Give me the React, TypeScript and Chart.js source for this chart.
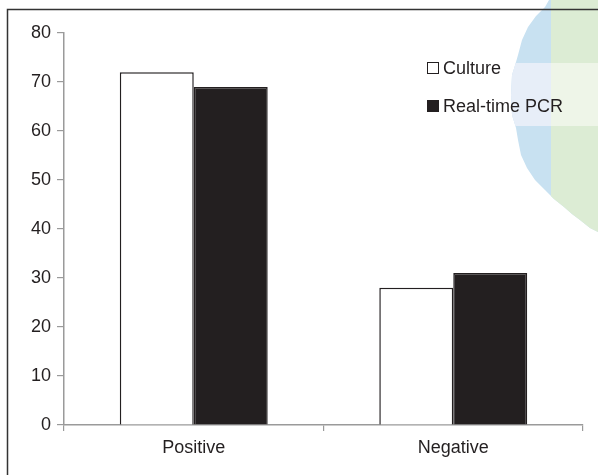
import React, { useEffect, useRef } from "react";
import { Chart, registerables } from "chart.js";

Chart.register(...registerables);

const categories = ["Positive", "Negative"];
const cultureValues = [72, 28];
const pcrValues = [69, 31];
const seriesNames = ["Culture", "Real-time PCR"];
const yTicks = [0, 10, 20, 30, 40, 50, 60, 70, 80];

const INK = "#231f20";
const AXIS = "#9a9a9a";
const FONT = "'Liberation Sans', Arial, sans-serif";

const decorPlugin = {
  id: "decor",
  beforeDraw(chart: any) {
    const ctx = chart.ctx;
    ctx.save();
    ctx.fillStyle = "#ffffff";
    ctx.fillRect(0, 0, chart.width, chart.height);
    // watermark blob at top-right
    const edge: [number, number][] = [
      [549, 0], [545, 7], [536, 16], [528, 27], [522, 40], [518, 55],
      [516, 62], [512, 75], [511, 95], [512, 115], [516, 128], [518, 140],
      [521, 155], [527, 168], [535, 180], [545, 190], [554, 199],
      [564, 207], [572, 214], [580, 220], [590, 228], [598, 232], [598, 0],
    ];
    ctx.beginPath();
    edge.forEach(([x, y], i) => (i ? ctx.lineTo(x, y) : ctx.moveTo(x, y)));
    ctx.closePath();
    ctx.clip();
    ctx.fillStyle = "#c8e1f1";
    ctx.fillRect(500, 0, 98, 240);
    ctx.fillStyle = "#dcecd4";
    ctx.fillRect(551, 0, 47, 240);
    ctx.fillStyle = "#e7eef8";
    ctx.fillRect(500, 63, 51, 63);
    ctx.fillStyle = "#eef5e8";
    ctx.fillRect(551, 63, 47, 63);
    ctx.restore();
  },
  afterDraw(chart: any) {
    const ctx = chart.ctx;
    ctx.save();
    // frame (top and left edges)
    ctx.strokeStyle = "#333333";
    ctx.lineWidth = 1.5;
    ctx.beginPath();
    ctx.moveTo(7.5, chart.height);
    ctx.lineTo(7.5, 9.5);
    ctx.lineTo(chart.width, 9.5);
    ctx.stroke();
    // legend
    const left = chart.chartArea.left + 363;
    const top = chart.chartArea.top + 35;
    ctx.font = `18px ${FONT}`;
    ctx.textBaseline = "middle";
    chart.data.datasets.forEach((ds: any, i: number) => {
      const cy = top + i * 38;
      ctx.fillStyle = ds.backgroundColor;
      ctx.fillRect(left + 0.5, cy - 5.5, 11, 11);
      ctx.strokeStyle = INK;
      ctx.lineWidth = 1;
      ctx.strokeRect(left + 0.5, cy - 5.5, 11, 11);
      ctx.fillStyle = INK;
      ctx.fillText(ds.label, left + 16, cy + 1);
    });
    ctx.restore();
  },
};

export default function App() {
  const ref = useRef<HTMLCanvasElement>(null);
  useEffect(() => {
    if (!ref.current) return;
    const chart = new Chart(ref.current, {
      type: "bar",
      data: {
        labels: categories,
        datasets: [
          {
            label: seriesNames[0],
            data: cultureValues,
            backgroundColor: "#ffffff",
            borderColor: INK,
            borderWidth: 1.5,
            categoryPercentage: 0.57,
            barPercentage: 1,
          },
          {
            label: seriesNames[1],
            data: pcrValues,
            backgroundColor: INK,
            borderColor: INK,
            borderWidth: 1.5,
            categoryPercentage: 0.57,
            barPercentage: 1,
          },
        ],
      },
      options: {
        animation: false,
        responsive: false,
        devicePixelRatio: 1,
        layout: { padding: { top: 33, right: 15, left: 0, bottom: 0 } },
        plugins: { legend: { display: false }, tooltip: { enabled: false } },
        scales: {
          x: {
            offset: true,
            grid: {
              offset: true,
              drawOnChartArea: false,
              tickLength: 6,
              color: AXIS,
              lineWidth: 1.2,
            },
            border: { color: AXIS, width: 1.5 },
            ticks: {
              color: INK,
              font: { family: FONT, size: 18 },
              padding: 6,
            },
            afterFit: (s: any) => {
              s.height = 50;
            },
          },
          y: {
            min: 0,
            max: 80,
            afterBuildTicks: (s: any) => {
              s.ticks = yTicks.map((v) => ({ value: v }));
            },
            grid: {
              drawOnChartArea: false,
              tickLength: 7,
              color: AXIS,
              lineWidth: 1.2,
            },
            border: { color: AXIS, width: 1.5 },
            ticks: {
              color: INK,
              font: { family: FONT, size: 18 },
              padding: 6,
            },
            afterFit: (s: any) => {
              s.width = 64;
            },
          },
        },
      },
      plugins: [decorPlugin],
    });
    return () => chart.destroy();
  }, []);
  return (
    <div style={{ position: "absolute", left: 0, top: 0, width: 598, height: 475 }}>
      <canvas ref={ref} width={598} height={475} style={{ display: "block" }} />
    </div>
  );
}
